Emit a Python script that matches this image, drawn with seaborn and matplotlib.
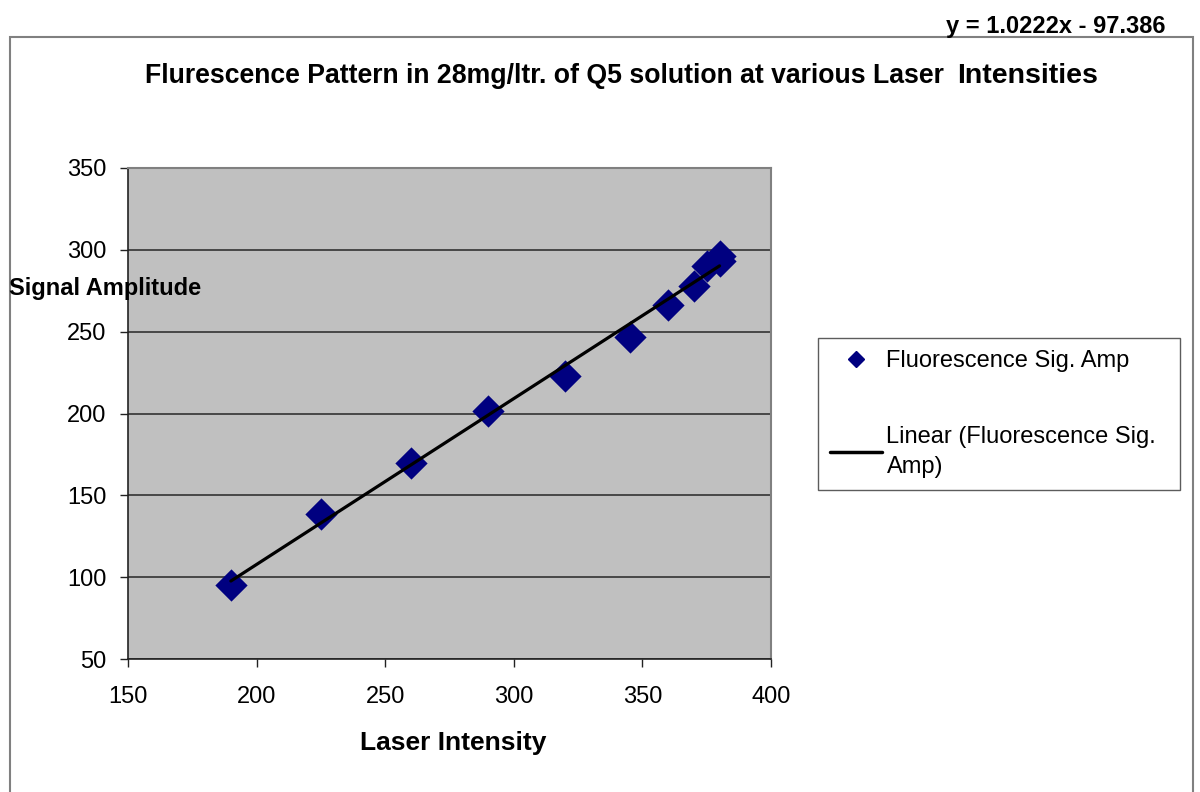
import matplotlib
matplotlib.use("Agg")
import matplotlib.pyplot as plt
import seaborn as sns
import numpy as np
import pandas as pd
from matplotlib.patches import Rectangle
from matplotlib.lines import Line2D

laser_intensity = [190, 225, 260, 290, 320, 345, 360, 370, 375, 380, 380]
signal_amplitude = [95, 138.5, 170, 201.5, 223, 247, 266, 278, 290, 296, 293]
x_ticks = [150, 200, 250, 300, 350, 400]
y_ticks = [50, 100, 150, 200, 250, 300, 350]
title_main = "Flurescence Pattern in 28mg/ltr. of Q5 solution at various Laser"
title_end = "Intensities"
equation = "y = 1.0222x - 97.386"
series_label = "Fluorescence Sig. Amp"
trend_label = "Linear (Fluorescence Sig.\nAmp)"

df = pd.DataFrame({"x": laser_intensity, "y": signal_amplitude})

sns.set_style("white")
plt.rcParams["font.family"] = ["Liberation Sans", "DejaVu Sans"]
plt.rcParams["text.color"] = "black"
plt.rcParams["xtick.color"] = "black"
plt.rcParams["ytick.color"] = "black"

W, H = 1200, 792
fig = plt.figure(figsize=(12, 7.92), dpi=100)
ax = fig.add_axes([128 / W, 1 - 659 / H, (771 - 128) / W, (659 - 168) / H])
ax.set_facecolor("#C0C0C0")

# outer chart border
fig.patches.append(Rectangle((10 / W, -0.05), (1193 - 10) / W, 0.05 + 1 - 37 / H,
                             transform=fig.transFigure, fill=False,
                             edgecolor="#808080", lw=1.5, zorder=0))

sns.regplot(data=df, x="x", y="y", ax=ax, scatter=False, ci=None,
            line_kws=dict(color="black", lw=2.3, zorder=3))
sns.scatterplot(data=df, x="x", y="y", ax=ax, marker="D", s=270,
                color="#000080", edgecolor="#000080", linewidth=0, zorder=2)

ax.set_xlim(150, 400)
ax.set_ylim(50, 350)
ax.set_xticks(x_ticks)
ax.set_yticks(y_ticks)
ax.yaxis.grid(True, color="#333333", lw=1.2)
ax.set_axisbelow(True)
for s in ["top", "right"]:
    ax.spines[s].set_color("#808080")
    ax.spines[s].set_linewidth(1.5)
for s in ["left", "bottom"]:
    ax.spines[s].set_color("#222222")
    ax.spines[s].set_linewidth(1.2)
ax.tick_params(axis="both", direction="out", length=5.5, width=1, color="#222222",
               labelsize=17, bottom=True, left=True)
ax.tick_params(axis="x", pad=14)
ax.tick_params(axis="y", pad=10)
ax.set_xlabel("")
ax.set_ylabel("")

fig.text(453 / W, 1 - 743 / H, "Laser Intensity", ha="center", va="center",
         fontsize=19, fontweight="bold")
fig.text(9 / W, 1 - 289 / H, "Signal Amplitude", ha="left", va="center",
         fontsize=17, fontweight="bold")
fig.text(145 / W, 1 - 83 / H, title_main, ha="left", va="baseline",
         fontsize=19.2, fontweight="bold")
fig.text(957 / W, 1 - 83 / H, title_end, ha="left", va="baseline",
         fontsize=20.5, fontweight="bold")
fig.text(1165 / W, 1 - 26 / H, equation, ha="right", va="center",
         fontsize=17, fontweight="bold")

handles = [
    Line2D([], [], marker="D", color="#000080", linestyle="none", markersize=8),
    Line2D([], [], color="black", lw=2.5),
]
leg = fig.legend(handles, [series_label, trend_label],
                 loc="upper left",
                 bbox_to_anchor=(818 / W, 1 - 487 / H, 362 / W, 149 / H),
                 mode="expand",
                 frameon=True, fancybox=False, fontsize=17, borderpad=0.5,
                 labelspacing=2.3, handlelength=2.2, handletextpad=0.2,
                 borderaxespad=0)
for t in leg.get_texts():
    t.set_linespacing(1.45)
leg.get_frame().set_edgecolor("#333333")
leg.get_frame().set_linewidth(1)

fig.savefig("out.png", dpi=100, facecolor="white")
